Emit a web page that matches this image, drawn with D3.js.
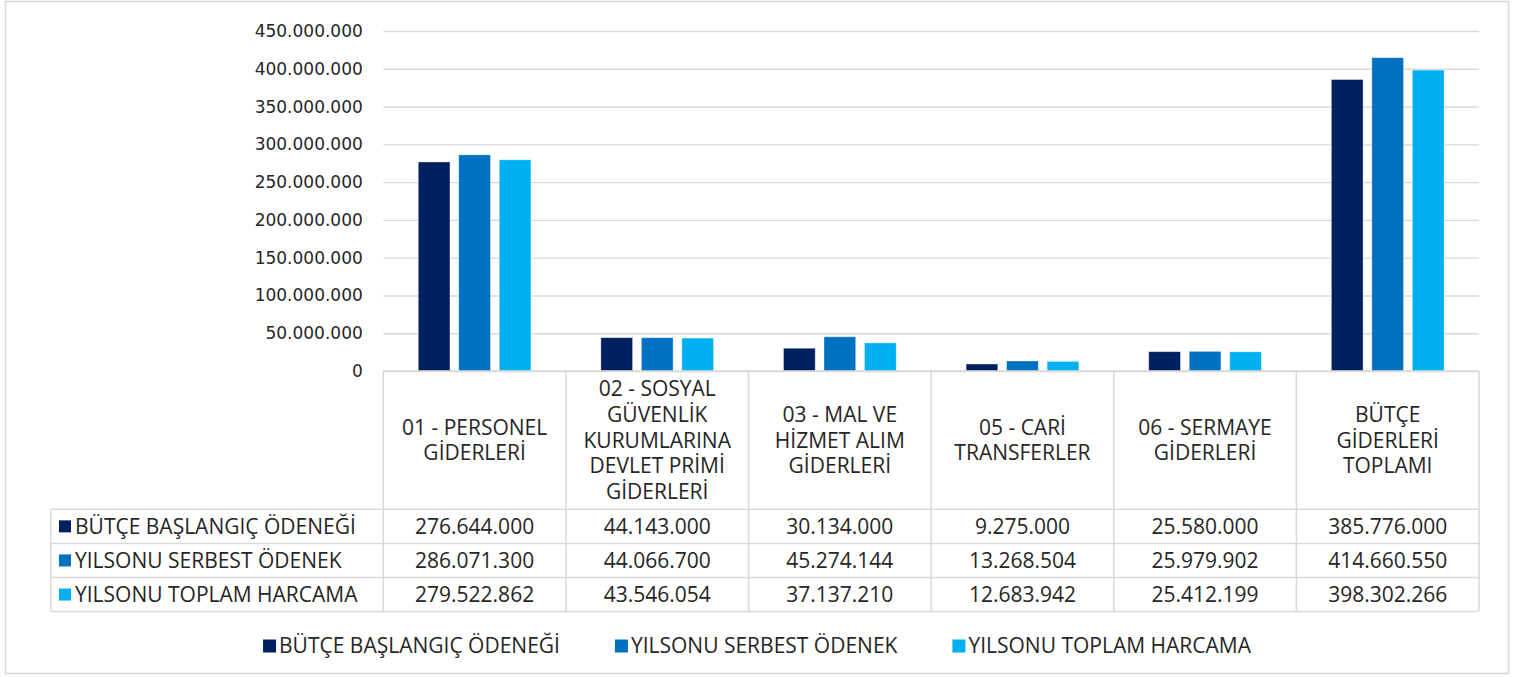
<!DOCTYPE html>
<html lang="tr">
<head>
<meta charset="UTF-8">
<title>Bütçe Giderleri</title>
<script src="https://d3js.org/d3.v7.min.js"></script>
<style>
  body { margin: 0; background: #fff; }
  text { fill: #262626; }
</style>
</head>
<body>
<script>
// kategoriler ("\n" = satır sonu, Excel'deki gibi kaydırılmış)
var categories = [
  "01 - PERSONEL\nGİDERLERİ",
  "02 - SOSYAL\nGÜVENLİK\nKURUMLARINA\nDEVLET PRİMİ\nGİDERLERİ",
  "03 - MAL VE\nHİZMET ALIM\nGİDERLERİ",
  "05 - CARİ\nTRANSFERLER",
  "06 - SERMAYE\nGİDERLERİ",
  "BÜTÇE\nGİDERLERİ\nTOPLAMI"
];
var seriesNames = ["BÜTÇE BAŞLANGIÇ ÖDENEĞİ", "YILSONU SERBEST ÖDENEK", "YILSONU TOPLAM HARCAMA"];
var baslangic = [276644000, 44143000, 30134000, 9275000, 25580000, 385776000];
var serbest   = [286071300, 44066700, 45274144, 13268504, 25979902, 414660550];
var harcama   = [279522862, 43546054, 37137210, 12683942, 25412199, 398302266];
var yTicks = [0, 50e6, 100e6, 150e6, 200e6, 250e6, 300e6, 350e6, 400e6, 450e6];
var colors = ["#002060", "#0070C0", "#00B0F0"];

var series = [baslangic, serbest, harcama];

var width = 1521, height = 677;
var tr = d3.formatLocale({ decimal: ",", thousands: ".", grouping: [3], currency: ["", ""] });
var fmt = tr.format(",d");

var svg = d3.select("body").append("svg")
    .attr("width", width)
    .attr("height", height);

// dış çerçeve
svg.append("rect")
    .attr("x", 5.5).attr("y", 1.5)
    .attr("width", 1503).attr("height", 672)
    .attr("fill", "#fff")
    .attr("stroke", "#d9d9d9").attr("stroke-width", 1.5);

var x = d3.scaleBand().domain(d3.range(categories.length)).range([383.3, 1479]);
var y = d3.scaleLinear().domain([0, 450e6]).range([371, 31]);

var bw = x.bandwidth();
var groupW = bw * 0.617;
var x1 = d3.scaleBand().domain(d3.range(series.length))
    .range([(bw - groupW) / 2, (bw + groupW) / 2])
    .paddingInner(0.217);

// y ekseni + ızgara
var yAxis = d3.axisLeft(y)
    .tickValues(yTicks)
    .tickFormat(fmt)
    .tickSizeInner(-(x.range()[1] - x.range()[0]))
    .tickSizeOuter(0)
    .tickPadding(20.5);

var gy = svg.append("g")
    .attr("transform", "translate(" + x.range()[0] + ",0)")
    .call(yAxis);
gy.select(".domain").remove();
gy.selectAll(".tick line").attr("stroke", "#d9d9d9").attr("stroke-width", 1.4);
gy.selectAll(".tick text")
    .attr("font-family", "DejaVu Sans")
    .attr("font-size", 17)
    .attr("fill", "#262626");

// sütunlar
var groups = svg.selectAll(".grp")
    .data(categories)
    .enter().append("g")
    .attr("class", "grp")
    .attr("transform", function(d, i) { return "translate(" + x(i) + ",0)"; });

groups.selectAll("rect")
    .data(function(d, i) { return series.map(function(s, j) { return { s: j, v: s[i] }; }); })
    .enter().append("rect")
    .attr("x", function(d) { return x1(d.s); })
    .attr("width", x1.bandwidth())
    .attr("y", function(d) { return y(d.v); })
    .attr("height", function(d) { return y(0) - y(d.v); })
    .attr("fill", function(d) { return colors[d.s]; })
    .attr("stroke", "#ffffff")
    .attr("stroke-opacity", 0.45)
    .attr("stroke-width", 0.8);

// veri tablosu
var headTop = y(0), headBot = 509.3, rowH = 34.1;
var tableLeft = 50.7, tableRight = x.range()[1];
var grid = svg.append("g")
    .attr("stroke", "#d9d9d9").attr("stroke-width", 1.5).attr("fill", "none");

grid.append("line").attr("x1", x.range()[0]).attr("x2", tableRight).attr("y1", headTop).attr("y2", headTop);
d3.range(series.length + 1).forEach(function(r) {
  var yy = headBot + r * rowH;
  grid.append("line").attr("x1", tableLeft).attr("x2", tableRight).attr("y1", yy).attr("y2", yy);
});
grid.append("line").attr("x1", tableLeft).attr("x2", tableLeft)
    .attr("y1", headBot).attr("y2", headBot + series.length * rowH);
d3.range(categories.length + 1).forEach(function(i) {
  var xx = i < categories.length ? x(i) : tableRight;
  grid.append("line").attr("x1", xx).attr("x2", xx)
      .attr("y1", headTop).attr("y2", headBot + series.length * rowH);
});

var tableFont = "Open Sans";
var tableSize = 21;
var lineH = 25.8;

// başlık hücreleri
groups.append("text")
    .attr("font-family", tableFont)
    .attr("font-size", tableSize)
    .attr("text-anchor", "middle")
    .each(function(d) {
      var lines = d.split("\n");
      var t = d3.select(this);
      var cy = (headTop + headBot) / 2;
      lines.forEach(function(l, k) {
        t.append("tspan")
            .attr("x", bw / 2)
            .attr("y", cy + (k - (lines.length - 1) / 2) * lineH)
            .attr("dy", "0.35em")
            .text(l);
      });
    });

// değer hücreleri
series.forEach(function(s, j) {
  var cy = headBot + (j + 0.5) * rowH;
  svg.append("g").selectAll("text")
      .data(s)
      .enter().append("text")
      .attr("x", function(d, i) { return x(i) + bw / 2; })
      .attr("y", cy)
      .attr("dy", "0.35em")
      .attr("text-anchor", "middle")
      .attr("font-family", tableFont)
      .attr("font-size", tableSize)
      .text(function(d) { return fmt(d); });

  svg.append("rect")
      .attr("x", 59).attr("y", cy - 6)
      .attr("width", 12).attr("height", 12)
      .attr("fill", colors[j]);
  svg.append("text")
      .attr("x", 75).attr("y", cy).attr("dy", "0.35em")
      .attr("font-family", tableFont)
      .attr("font-size", tableSize)
      .text(seriesNames[j]);
});

// gösterge
var legend = svg.append("g");
var items = legend.selectAll("g")
    .data(seriesNames)
    .enter().append("g");
items.append("rect")
    .attr("y", 646 - 6.5)
    .attr("width", 13).attr("height", 13)
    .attr("fill", function(d, i) { return colors[i]; });
items.append("text")
    .attr("x", 16).attr("y", 646).attr("dy", "0.35em")
    .attr("font-family", tableFont)
    .attr("font-size", tableSize)
    .text(function(d) { return d; });

var widths = [];
items.each(function() { widths.push(16 + d3.select(this).select("text").node().getComputedTextLength()); });
var gap = 55;
var total = d3.sum(widths) + gap * (widths.length - 1);
var cx = 757 - total / 2;
items.attr("transform", function(d, i) {
  var pos = cx + d3.sum(widths.slice(0, i)) + gap * i;
  return "translate(" + pos + ",0)";
});
</script>
</body>
</html>
